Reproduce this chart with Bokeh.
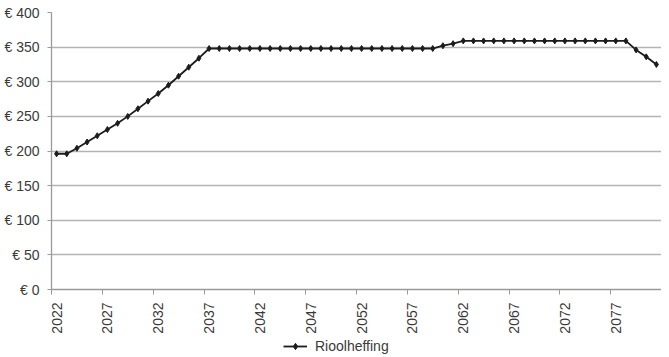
from bokeh.plotting import figure
from bokeh.layouts import column
from bokeh.models import (Range1d, FixedTicker, PrintfTickFormatter, Legend, LegendItem)
from bokeh.embed import file_html
from bokeh.resources import INLINE
import math

# ---- data ----
years = list(range(2022, 2082))
rioolheffing = [196, 196, 204, 213, 222, 231, 240, 250, 261, 272, 283, 295, 308, 321, 334,
                348, 348, 348, 348, 348, 348, 348, 348, 348, 348, 348, 348, 348, 348, 348,
                348, 348, 348, 348, 348, 348, 348, 348,
                352, 355,
                359, 359, 359, 359, 359, 359, 359, 359, 359, 359, 359, 359, 359, 359, 359,
                359, 359,
                346, 336, 325]
y_ticks = [0, 50, 100, 150, 200, 250, 300, 350, 400]
series_name = "Rioolheffing"

label_years = years[::5]
boundaries = [y - 0.5 for y in label_years] + [years[-1] + 0.5]

FONT = "Liberation Sans"
TXT = "#3a3a3a"
AXC = "#9a9a9a"
LINEC = "#1c1c1c"

p = figure(width=661, height=336, output_backend="svg", toolbar_location=None,
           x_range=Range1d(years[0] - 0.5, years[-1] + 0.5),
           y_range=Range1d(y_ticks[0], y_ticks[-1]),
           min_border_left=51, min_border_right=0, min_border_top=12, min_border_bottom=47)
p.outline_line_color = None
p.background_fill_color = "white"
p.border_fill_color = "white"

# axes
xa = p.xaxis[0]
xa.ticker = FixedTicker(ticks=label_years, minor_ticks=boundaries)
xa.formatter = PrintfTickFormatter(format="%d")
xa.major_label_orientation = math.pi / 2
xa.major_tick_out = 0
xa.major_tick_in = 0
xa.minor_tick_out = 5
xa.minor_tick_in = 0
xa.minor_tick_line_color = AXC
xa.axis_line_color = AXC
xa.axis_line_width = 1.3
xa.major_label_standoff = 8
xa.major_label_text_font = FONT
xa.major_label_text_font_size = "14px"
xa.major_label_text_color = TXT

ya = p.yaxis[0]
ya.ticker = FixedTicker(ticks=y_ticks)
ya.formatter = PrintfTickFormatter(format="€ %d")
ya.major_tick_out = 4
ya.major_tick_in = 0
ya.minor_tick_line_color = None
ya.major_tick_line_color = AXC
ya.axis_line_color = AXC
ya.axis_line_width = 1.3
ya.major_label_standoff = 8
ya.major_label_text_font = FONT
ya.major_label_text_font_size = "14px"
ya.major_label_text_color = TXT

p.xgrid.grid_line_color = None
p.ygrid.ticker = FixedTicker(ticks=y_ticks)
p.ygrid.grid_line_color = "#b4b4b4"
p.ygrid.grid_line_width = 1.5

# series
lr = p.line(years, rioolheffing, line_color=LINEC, line_width=1.8)
sr = p.scatter(years, rioolheffing, marker="diamond", size=6,
               fill_color=LINEC, line_color=LINEC)

# legend strip below the chart (its own copies of the series lie outside its view)
lg = figure(width=661, height=18, output_backend="svg", toolbar_location=None,
            x_range=Range1d(0, 1), y_range=Range1d(0, 1),
            min_border_left=0, min_border_right=0, min_border_top=0, min_border_bottom=0)
lg.axis.visible = False
lg.grid.visible = False
lg.outline_line_color = None
llr = lg.line(years, rioolheffing, line_color=LINEC, line_width=1.8)
lsr = lg.scatter(years, rioolheffing, marker="diamond", size=6,
                 fill_color=LINEC, line_color=LINEC)
legend = Legend(items=[LegendItem(label=series_name, renderers=[llr, lsr])],
                location=(232, 0), orientation="horizontal",
                padding=0, margin=0, spacing=0,
                glyph_width=24, glyph_height=16, label_standoff=8,
                label_height=16,
                label_text_font=FONT, label_text_font_size="14px",
                label_text_color=TXT, border_line_color=None,
                background_fill_alpha=0)
lg.add_layout(legend, "center")

layout = column(p, lg, spacing=0)
open("out.html", "w").write(file_html(layout, INLINE))
